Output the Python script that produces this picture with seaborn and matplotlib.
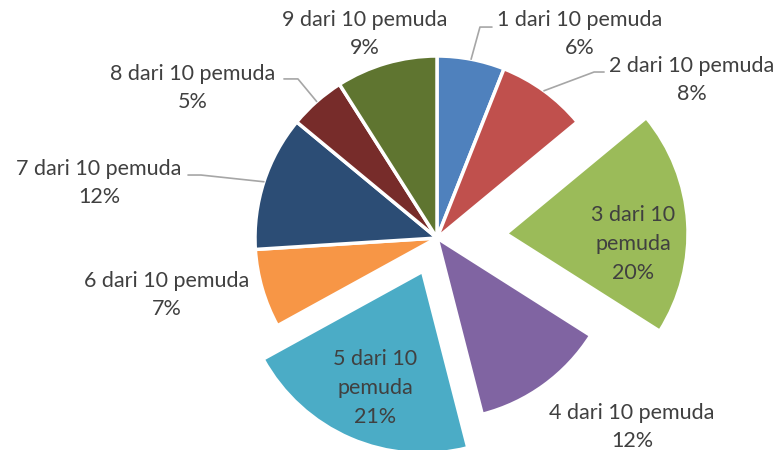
import numpy as np
import matplotlib
matplotlib.use("Agg")
import matplotlib.pyplot as plt
import seaborn as sns

# data
labels = ["1 dari 10 pemuda", "2 dari 10 pemuda", "3 dari 10\npemuda", "4 dari 10 pemuda",
          "5 dari 10\npemuda", "6 dari 10 pemuda", "7 dari 10 pemuda", "8 dari 10 pemuda",
          "9 dari 10 pemuda"]
values = [6, 8, 20, 12, 21, 7, 12, 5, 9]
explode = [0, 0, 0.38, 0, 0.2, 0, 0, 0, 0]
colors = ["#4F81BD", "#C0504D", "#9BBB59", "#8064A2", "#4BACC6",
          "#F79646", "#2C4D75", "#772C2A", "#5F7530"]

# label layout (data units, pie radius = 1)
label_pos = [(0.786, 1.121), (1.401, 0.868), (1.077, -0.033), (1.071, -1.038),
             (-0.341, -0.824), (-1.484, -0.313), (-1.857, 0.302), (-1.341, 0.824),
             (-0.396, 1.121)]
# leader lines: slice index -> (elbow, end)
leaders = {0: ((0.236, 1.159), (0.302, 1.159)),
           1: ((0.863, 0.912), (0.918, 0.912)),
           6: ((-1.297, 0.346), (-1.368, 0.346)),
           7: ((-0.764, 0.874), (-0.841, 0.874))}

sns.set_style("white")
plt.rcParams["font.family"] = ["Lato", "DejaVu Sans"]

fig = plt.figure(figsize=(7.79, 4.50), dpi=100)
ax = fig.add_axes([0, 0, 1, 1])

pal = sns.color_palette(colors)
wedges, _ = ax.pie(values, colors=pal, explode=explode, startangle=90, counterclock=False,
                   radius=1, wedgeprops=dict(edgecolor="white", linewidth=2.5))

total = sum(values)
for i, (lab, v) in enumerate(zip(labels, values)):
    x, y = label_pos[i]
    ax.text(x, y, f"{lab}\n{round(100 * v / total)}%", ha="center", va="center",
            fontsize=15.5, color="#404040", linespacing=1.55)

cum = np.cumsum([0] + values)
for i, (elbow, end) in leaders.items():
    mid = np.deg2rad(90 - (cum[i] + values[i] / 2) / total * 360)
    sx, sy = np.cos(mid), np.sin(mid)
    ax.plot([sx, elbow[0], end[0]], [sy, elbow[1], end[1]], color="#A6A6A6", lw=1.2)

ax.set_xlim(-437 / 182, (779 - 437) / 182)
ax.set_ylim(-(450 - 238) / 182, 238 / 182)
ax.set_aspect("equal")
ax.axis("off")

fig.savefig("out.png", dpi=100, facecolor="white")
